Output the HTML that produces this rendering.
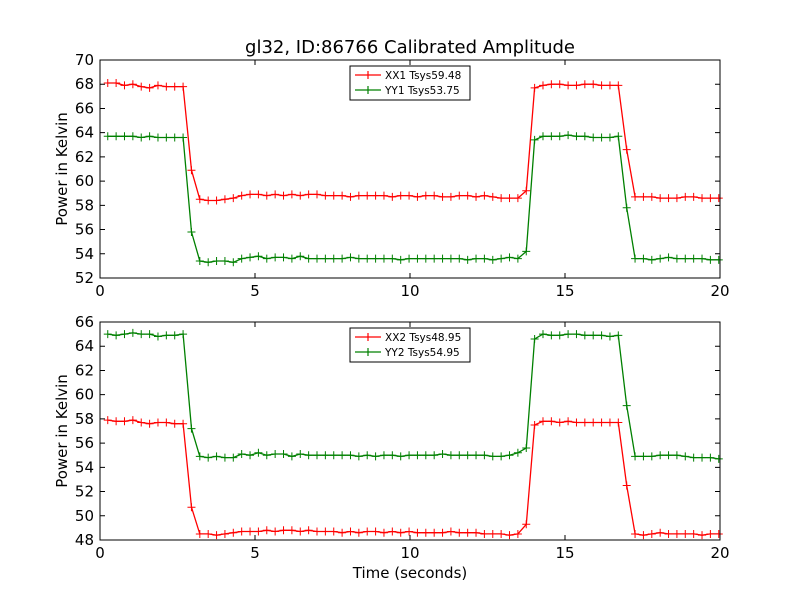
<!DOCTYPE html>
<html><head><meta charset="utf-8"><style>
body{margin:0;background:#fff;font-family:"Liberation Sans","DejaVu Sans",sans-serif}
svg text{font-family:"DejaVu Sans","Liberation Sans",sans-serif}
</style></head><body>
<svg id="c" width="800" height="600" xmlns="http://www.w3.org/2000/svg">
<rect width="800" height="600" fill="#fff"/>
<text x="410" y="53" font-size="18" text-anchor="middle">gl32, ID:86766 Calibrated Amplitude</text>
<text x="410" y="578" font-size="15" text-anchor="middle">Time (seconds)</text>
</svg>
<script>
const t0=0.25, dt=0.27;
const xx1=[68.1,68.1,67.9,68.0,67.8,67.7,67.9,67.8,67.8,67.8,60.9,
58.5,58.4,58.4,58.5,58.6,58.8,58.9,58.9,58.8,58.9,58.8,58.9,58.8,58.9,58.9,58.8,58.8,58.8,58.7,58.8,58.8,58.8,58.8,58.7,58.8,58.8,58.7,58.8,58.8,58.7,58.7,58.8,58.8,58.7,58.8,58.7,58.6,58.6,58.6,
59.2,67.7,67.9,68.0,68.0,67.9,67.9,68.0,68.0,67.9,67.9,67.9,62.6,
58.7,58.7,58.7,58.6,58.6,58.6,58.7,58.7,58.6,58.6,58.6];
const yy1=[63.7,63.7,63.7,63.7,63.6,63.7,63.6,63.6,63.6,63.6,55.8,
53.4,53.3,53.4,53.4,53.3,53.6,53.7,53.8,53.6,53.7,53.7,53.6,53.8,53.6,53.6,53.6,53.6,53.6,53.7,53.6,53.6,53.6,53.6,53.6,53.5,53.6,53.6,53.6,53.6,53.6,53.6,53.6,53.5,53.6,53.6,53.5,53.6,53.7,53.6,
54.2,63.4,63.7,63.7,63.7,63.8,63.7,63.7,63.6,63.6,63.6,63.7,57.8,
53.6,53.6,53.5,53.6,53.7,53.6,53.6,53.6,53.6,53.5,53.5];
const xx2=[57.9,57.8,57.8,57.9,57.7,57.6,57.7,57.7,57.6,57.6,50.7,
48.5,48.5,48.4,48.5,48.6,48.7,48.7,48.7,48.8,48.7,48.8,48.8,48.7,48.8,48.7,48.7,48.7,48.6,48.7,48.6,48.7,48.7,48.6,48.7,48.6,48.7,48.6,48.6,48.6,48.6,48.7,48.6,48.6,48.6,48.5,48.5,48.5,48.4,48.5,
49.3,57.5,57.8,57.8,57.7,57.8,57.7,57.7,57.7,57.7,57.7,57.7,52.5,
48.5,48.4,48.5,48.6,48.5,48.5,48.5,48.5,48.4,48.5,48.5];
const yy2=[65.0,64.9,65.0,65.1,65.0,65.0,64.8,64.9,64.9,65.0,57.2,
54.9,54.8,54.9,54.8,54.8,55.1,55.0,55.2,55.0,55.1,55.1,54.9,55.1,55.0,55.0,55.0,55.0,55.0,55.0,54.9,55.0,54.9,55.0,55.0,54.9,55.0,55.0,55.0,55.0,55.1,55.0,55.0,55.0,55.0,55.0,54.9,54.9,55.0,55.2,
55.6,64.6,65.0,64.9,64.9,65.0,65.0,64.9,64.9,64.9,64.8,64.9,59.1,
54.9,54.9,54.9,55.0,55.0,55.0,54.9,54.8,54.8,54.8,54.7];
const xTicks=[0,5,10,15,20];
const yTicksTop=[52,54,56,58,60,62,64,66,68,70];
const yTicksBot=[48,50,52,54,56,58,60,62,64,66];
const legendTop=["XX1 Tsys59.48","YY1 Tsys53.75"];
const legendBot=["XX2 Tsys48.95","YY2 Tsys54.95"];
const NS="http://www.w3.org/2000/svg", svg=document.getElementById('c');
function mk(tag,at,parent){const e=document.createElementNS(NS,tag);for(const k in at)e.setAttribute(k,at[k]);(parent||svg).appendChild(e);return e;}
function panel(top,bot,ymin,ymax,yTicks,s1,s2,leg,name){
  const L=100,R=720;
  const g=mk('g',{});
  
  
  const X=v=>L+(v-0)/(20-0)*(R-L), Y=v=>bot-(v-ymin)/(ymax-ymin)*(bot-top);
  [[s1,'#ff0000','xx'],[s2,'#008000','yy']].forEach(([s,col,n])=>{
    const pts=s.map((v,i)=>X(t0+i*dt).toFixed(1)+','+Y(v).toFixed(1)).join(' ');
    const pl=mk('polyline',{points:pts,fill:'none',stroke:col,'stroke-width':1.3},g);
    
    
    s.forEach((v,i)=>{const x=X(t0+i*dt),y=Y(v);
      mk('path',{d:`M${x-4},${y}H${x+4}M${x},${y-4}V${y+4}`,stroke:col,'stroke-width':1},g);});
  });
  const fr=mk('rect',{x:L,y:top,width:R-L,height:bot-top,fill:'none',stroke:'#000','stroke-width':1},g);
  
  
  xTicks.forEach(v=>{const x=X(v);
    mk('path',{d:`M${x},${bot}v-5M${x},${top}v5`,stroke:'#000'},g);
    const t=mk('text',{x:x,y:bot+18,'font-size':15,'text-anchor':'middle'},g);t.textContent=v;
    
    });
  yTicks.forEach(v=>{const y=Y(v);
    mk('path',{d:`M${L},${y}h5M${R},${y}h-5`,stroke:'#000'},g);
    const t=mk('text',{x:L-6,y:y+5,'font-size':15,'text-anchor':'end'},g);t.textContent=v;
    
    });
  const yl=mk('text',{x:0,y:0,'font-size':15,'text-anchor':'middle',transform:`translate(67,${(top+bot)/2}) rotate(-90)`},g);
  yl.textContent='Power in Kelvin';
  
  
  const lg=mk('g',{},g);
  
  
  mk('rect',{x:350,y:top+6,width:120,height:34,fill:'#fff',stroke:'#000'},lg);
  leg.forEach((s,i)=>{const y=top+15+i*15,col=i?'#008000':'#ff0000';
    mk('path',{d:`M355,${y}h26M368,${y-4}v8`,stroke:col,'stroke-width':1.2},lg);
    const t=mk('text',{x:385,y:y+4,'font-size':10.5},lg);t.textContent=s;
    
    });
}
panel(60,278,52,70,yTicksTop,xx1,yy1,legendTop,'top-panel');
panel(322,540,48,66,yTicksBot,xx2,yy2,legendBot,'bottom-panel');
</script>
</body></html>
